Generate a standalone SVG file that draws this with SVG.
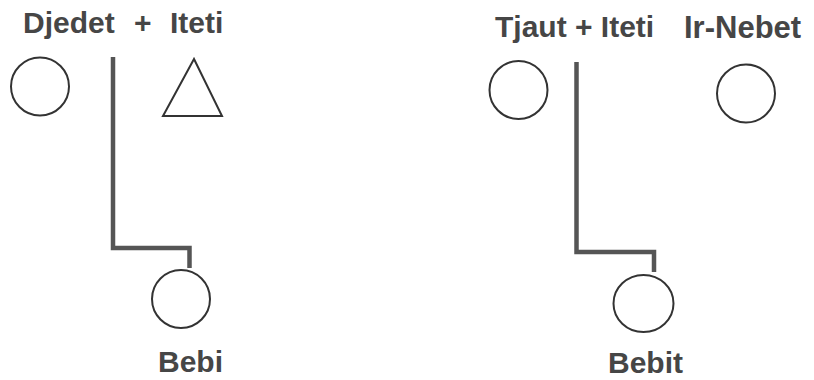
<svg xmlns="http://www.w3.org/2000/svg" width="814" height="380" viewBox="0 0 814 380">
<style>
.lbl{font-family:"Liberation Sans",Arial,sans-serif;font-weight:bold;font-size:30px;fill:#464646}
.sym{fill:none;stroke:#333;stroke-width:2}
.con{fill:none;stroke:#555;stroke-width:4.5;stroke-linejoin:miter}
</style>
<rect width="814" height="380" fill="#fff"/>
<g id="labels">
<text class="lbl" y="33"><tspan x="23">Djedet</tspan><tspan x="134">+</tspan><tspan x="170">Iteti</tspan></text>
<text class="lbl" x="495" y="37">Tjaut + Iteti</text>
</g>
<g id="djedet"><circle class="sym" cx="40" cy="86.5" r="29"/></g>
<g id="iteti1"><polygon class="sym" points="194,59 163,116 222,116"/></g>
<g id="bebi"><circle class="sym" cx="181" cy="299" r="29"/><text class="lbl" x="158" y="372">Bebi</text></g>
<g id="tjaut"><circle class="sym" cx="518.5" cy="90" r="29"/></g>
<g id="irnebet"><circle class="sym" cx="746" cy="93.5" r="29"/><text class="lbl" x="684" y="38" style="font-size:31px">Ir-Nebet</text></g>
<g id="bebit"><ellipse class="sym" cx="643.5" cy="303.5" rx="30" ry="28.5"/><text class="lbl" x="608" y="373">Bebit</text></g>
<g id="connectors">
<polyline class="con" points="113,57 113,248 189.5,248 189.5,268"/>
<polyline class="con" points="576.5,62 576.5,252 654,252 654,272"/>
</g>
</svg>
